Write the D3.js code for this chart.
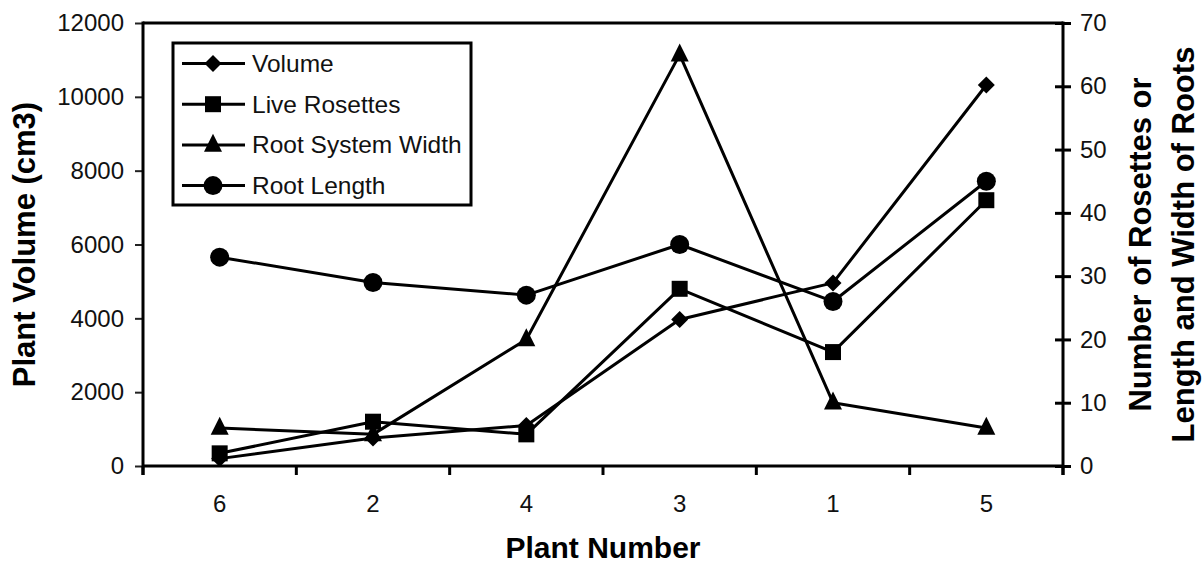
<!DOCTYPE html>
<html>
<head>
<meta charset="utf-8">
<script src="https://cdn.jsdelivr.net/npm/d3@7/dist/d3.min.js"></script>
<style>
  html, body { margin: 0; padding: 0; background: #fff; }
  svg { display: block; font-family: "Liberation Sans", Arial, sans-serif; }
</style>
</head>
<body>
<svg id="chart" width="1203" height="567"></svg>
<script>
// Plants in the order they are plotted
const plants = ["6", "2", "4", "3", "1", "5"];

// Plant volume (cm3) — left axis
const volume = [200, 760, 1100, 3970, 4960, 10320];
// Counts / lengths — right axis
const liveRosettes = [2, 7, 5, 28, 18, 42];
const rootSystemWidth = [6, 5, 20, 65, 10, 6];
const rootLength = [33, 29, 27, 35, 26, 45];

const leftTicks = [0, 2000, 4000, 6000, 8000, 10000, 12000];
const rightTicks = [0, 10, 20, 30, 40, 50, 60, 70];

const seriesNames = ["Volume", "Live Rosettes", "Root System Width", "Root Length"];

// layout
const L = 143, R = 1063, T = 23, B = 466;
const svg = d3.select("#chart");

const x = d3.scaleBand().domain(plants).range([L, R]).paddingInner(0).paddingOuter(0);
const cx = d => x(d) + x.bandwidth() / 2;
const yL = d3.scaleLinear().domain([0, 12000]).range([B, T]);
const yR = d3.scaleLinear().domain([0, 70]).range([B, T]);

// marker shapes
const diamond = {
  draw(ctx, size) {
    const r = Math.sqrt(size / 2);
    ctx.moveTo(0, -r); ctx.lineTo(r, 0); ctx.lineTo(0, r); ctx.lineTo(-r, 0); ctx.closePath();
  }
};
const triangle = {
  draw(ctx, size) {
    const h = Math.sqrt(size * 2);
    ctx.moveTo(0, -h * 0.62); ctx.lineTo(h / 2, h * 0.38); ctx.lineTo(-h / 2, h * 0.38); ctx.closePath();
  }
};
const shapes = [
  d3.symbol().type(diamond).size(2 * 8.5 * 8.5),
  d3.symbol().type(d3.symbolSquare).size(16 * 16),
  d3.symbol().type(triangle).size(18 * 18 / 2),
  d3.symbol().type(d3.symbolCircle).size(Math.PI * 9.5 * 9.5)
];

const series = [
  { values: volume, y: yL },
  { values: liveRosettes, y: yR },
  { values: rootSystemWidth, y: yR },
  { values: rootLength, y: yR }
];

// frame: top border
svg.append("line").attr("x1", L).attr("x2", R).attr("y1", T).attr("y2", T)
  .attr("stroke", "#000").attr("stroke-width", 3);

// left axis
const gL = svg.append("g").attr("transform", `translate(${L},0)`)
  .call(d3.axisLeft(yL).tickValues(leftTicks).tickFormat(d3.format("d")).tickSize(8).tickPadding(11));
gL.select(".domain").remove();
gL.selectAll(".tick line").attr("stroke", "#222").attr("stroke-width", 2);
gL.selectAll(".tick text").attr("font-size", 24).attr("fill", "#111");
svg.append("line").attr("x1", L).attr("x2", L).attr("y1", T - 1.5).attr("y2", B + 9)
  .attr("stroke", "#000").attr("stroke-width", 3);

// right axis
const gR = svg.append("g").attr("transform", `translate(${R},0)`)
  .call(d3.axisRight(yR).tickValues(rightTicks).tickSize(8).tickPadding(9));
gR.select(".domain").remove();
gR.selectAll(".tick line").attr("x1", -8).attr("stroke", "#000").attr("stroke-width", 3);
gR.selectAll(".tick text").attr("font-size", 24).attr("fill", "#111");
svg.append("line").attr("x1", R).attr("x2", R).attr("y1", T - 1.5).attr("y2", B + 9)
  .attr("stroke", "#000").attr("stroke-width", 3);

// bottom axis: labels at plant centres, ticks between plants
const gB = svg.append("g").attr("transform", `translate(0,${B})`)
  .call(d3.axisBottom(x).tickSize(0).tickPadding(29));
gB.select(".domain").remove();
gB.selectAll(".tick text").attr("font-size", 24).attr("fill", "#111");
const edges = plants.map(p => x(p)).concat([R]);
svg.append("g").selectAll("line").data(edges).join("line")
  .attr("x1", d => d).attr("x2", d => d).attr("y1", B).attr("y2", B + 9)
  .attr("stroke", "#000").attr("stroke-width", 3);
svg.append("line").attr("x1", L).attr("x2", R).attr("y1", B).attr("y2", B)
  .attr("stroke", "#000").attr("stroke-width", 3);

// series lines and markers
series.forEach((s, i) => {
  const line = d3.line().x((d, j) => cx(plants[j])).y(d => s.y(d));
  svg.append("path").datum(s.values).attr("d", line)
    .attr("fill", "none").attr("stroke", "#000").attr("stroke-width", 3)
    .attr("stroke-linejoin", "round");
  svg.append("g").selectAll("path").data(s.values).join("path")
    .attr("transform", (d, j) => `translate(${cx(plants[j])},${s.y(d)})`)
    .attr("d", shapes[i]()).attr("fill", "#000");
});

// legend
const lg = svg.append("g");
lg.append("rect").attr("x", 173).attr("y", 43).attr("width", 298).attr("height", 162)
  .attr("fill", "#fff").attr("stroke", "#000").attr("stroke-width", 3);
seriesNames.forEach((name, i) => {
  const yy = 63.5 + i * 40.7;
  lg.append("line").attr("x1", 182).attr("x2", 245).attr("y1", yy).attr("y2", yy)
    .attr("stroke", "#000").attr("stroke-width", 3);
  lg.append("path").attr("transform", `translate(213,${yy})`).attr("d", shapes[i]()).attr("fill", "#000");
  lg.append("text").attr("x", 252).attr("y", yy).attr("dy", "0.35em")
    .attr("font-size", 24.5).attr("fill", "#111").text(name);
});

// axis titles
svg.append("text").attr("transform", `translate(35,${(T + B) / 2}) rotate(-90)`)
  .attr("text-anchor", "middle").attr("font-weight", "bold").attr("font-size", 31)
  .text("Plant Volume (cm3)");
svg.append("text").attr("x", (L + R) / 2).attr("y", 558)
  .attr("text-anchor", "middle").attr("font-weight", "bold").attr("font-size", 30)
  .text("Plant Number");
const rt = svg.append("text").attr("transform", `translate(1151,${(T + B) / 2}) rotate(-90)`)
  .attr("text-anchor", "middle").attr("font-weight", "bold").attr("font-size", 31);
rt.append("tspan").attr("x", 0).attr("y", 0).text("Number of Rosettes or");
rt.append("tspan").attr("x", 0).attr("y", 43).text("Length and Width of Roots");
</script>
</body>
</html>
